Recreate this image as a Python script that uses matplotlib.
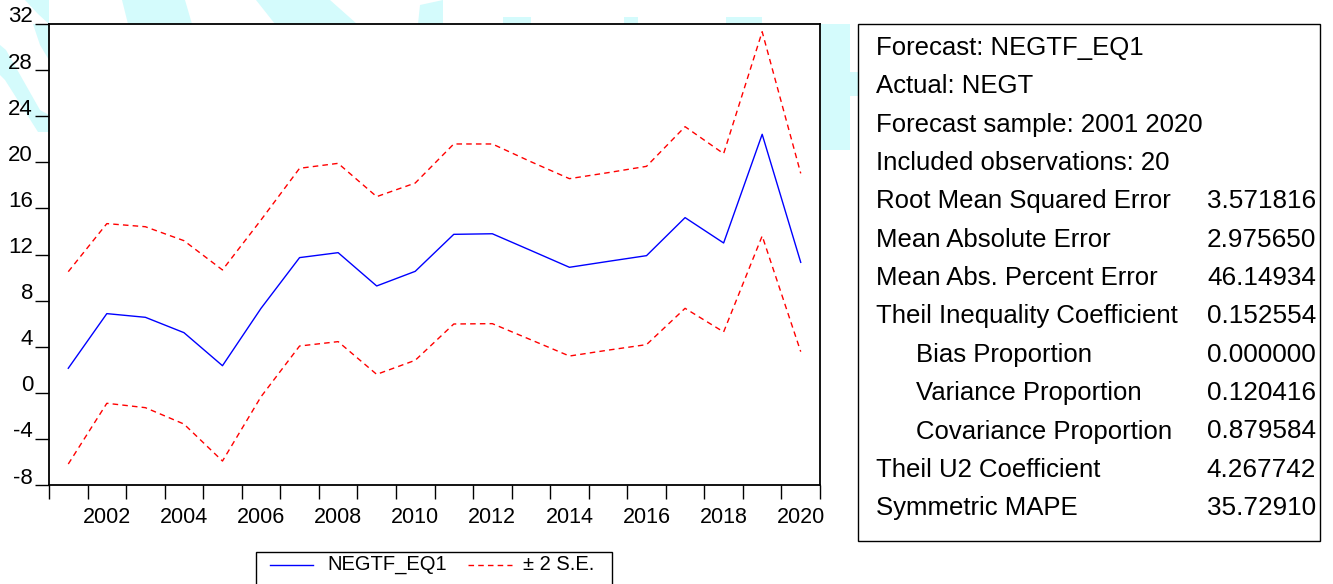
import matplotlib
matplotlib.use("Agg")
import matplotlib.pyplot as plt
from matplotlib.patches import Rectangle, Polygon
from matplotlib.lines import Line2D

plt.rcParams['font.family'] = ['Liberation Sans', 'DejaVu Sans']

years = list(range(2001, 2021))
forecast = [2.13, 6.87, 6.55, 5.22, 2.35, 7.33, 11.73, 12.16, 9.27, 10.54,
            13.75, 13.80, 12.35, 10.89, 11.40, 11.90, 15.20, 13.00, 22.43, 11.32]
upper = [10.51, 14.68, 14.41, 13.20, 10.66, 15.00, 19.48, 19.91, 17.02, 18.20,
         21.59, 21.59, 20.05, 18.58, 19.10, 19.65, 23.09, 20.75, 31.33, 19.04]
lower = [-6.18, -0.91, -1.29, -2.71, -5.92, -0.34, 4.06, 4.44, 1.60, 2.82,
         5.97, 6.00, 4.60, 3.19, 3.70, 4.18, 7.33, 5.28, 13.61, 3.57]
yticks = [-8, -4, 0, 4, 8, 12, 16, 20, 24, 28, 32]
xlabels = [2002, 2004, 2006, 2008, 2010, 2012, 2014, 2016, 2018, 2020]

stats_labels = ["Root Mean Squared Error", "Mean Absolute Error",
                "Mean Abs. Percent Error", "Theil Inequality Coefficient",
                "     Bias Proportion", "     Variance Proportion",
                "     Covariance Proportion", "Theil U2 Coefficient",
                "Symmetric MAPE"]
stats_values = ["3.571816", "2.975650", "46.14934", "0.152554", "0.000000",
                "0.120416", "0.879584", "4.267742", "35.72910"]
header_lines = ["Forecast: NEGTF_EQ1", "Actual: NEGT",
                "Forecast sample: 2001 2020", "Included observations: 20"]

W, H = 1333, 584
fig = plt.figure(figsize=(W / 100, H / 100), dpi=100)

def fx(px):
    return px / W

def fy(py):
    return 1 - py / H

# faint cyan background artefacts of the screenshot (behind everything)
cyan = '#d4fbfc'
bg_polys = [
    [(821, 24), (850, 24), (850, 150), (821, 150)],
    [(850, 72), (858, 72), (858, 96), (850, 96)],
    [(122, 0), (185, 0), (192, 24), (128, 24)],
    [(256, 0), (330, 0), (357, 24), (275, 24)],
    [(420, 5), (443, 0), (443, 24), (418, 24)],
    [(503, 17), (531, 17), (531, 24), (503, 24)],
    [(624, 17), (638, 17), (638, 24), (624, 24)],
    [(726, 17), (762, 17), (762, 24), (726, 24)],
    [(25, 0), (49, 0), (49, 24), (38, 14)],
    [(33, 24), (49, 24), (49, 60), (40, 45)],
    [(0, 45), (6, 50), (40, 110), (49, 115), (49, 132), (38, 132), (5, 80), (0, 75)],
]
for poly in bg_polys:
    fig.patches.append(Polygon([(fx(x), fy(y)) for x, y in poly], closed=True,
                               transform=fig.transFigure, fc=cyan, ec='none', zorder=-5))

ax = fig.add_axes([fx(49), fy(485), fx(820) - fx(49), (485 - 24) / H])
ax.set_zorder(2)
ax.plot(years, forecast, color='#0000ff', lw=1.0)
ax.plot(years, upper, color='#ff0000', lw=1.0, dashes=(4, 3))
ax.plot(years, lower, color='#ff0000', lw=1.0, dashes=(4, 3))
ax.set_xlim(2000.5, 2020.5)
ax.set_ylim(-8, 32)

for s in ax.spines.values():
    s.set_linewidth(1.3)
    s.set_color('black')

ax.set_yticks(yticks)
ax.set_yticklabels([])
ax.tick_params(axis='y', direction='out', length=10, width=1.0)
for v in yticks:
    ax.annotate(str(v), xy=(0, v), xycoords=ax.get_yaxis_transform(),
                xytext=(-16, 7), textcoords='offset pixels',
                ha='right', va='center', fontsize=16)

ax.set_xticks([y + 0.5 for y in range(2000, 2021)])
ax.set_xticklabels([])
ax.tick_params(axis='x', direction='out', length=10, width=1.0, colors='black')
ax.set_xticks(xlabels, minor=True)
ax.set_xticklabels([str(v) for v in xlabels], minor=True, fontsize=15.5)
ax.tick_params(axis='x', which='minor', length=0, pad=16)

# Legend box
fig.patches.append(Rectangle((fx(256), fy(600)), fx(612) - fx(256), (600 - 552) / H,
                             transform=fig.transFigure, fill=False, ec='black', lw=1.0))
fig.lines.append(Line2D([fx(270), fx(313)], [fy(565), fy(565)], transform=fig.transFigure,
                        color='#0000ff', lw=1.0))
fig.lines.append(Line2D([fx(468), fx(512)], [fy(565), fy(565)], transform=fig.transFigure,
                        color='#ff0000', lw=1.0, dashes=(4, 3)))
fig.text(fx(327), fy(565), "NEGTF_EQ1", ha='left', va='center', fontsize=14.5)
fig.text(fx(523), fy(565), "± 2 S.E.", ha='left', va='center', fontsize=14.5)

# Stats table
fig.patches.append(Rectangle((fx(858), fy(541)), fx(1320) - fx(858), (541 - 24) / H,
                             transform=fig.transFigure, fc='white', ec='black', lw=1.0,
                             zorder=1))
row_y = [48 + i * 38.35 for i in range(13)]
for i, t in enumerate(header_lines):
    fig.text(fx(876), fy(row_y[i]), t, ha='left', va='center', fontsize=18.5)
for j, (lab, val) in enumerate(zip(stats_labels, stats_values)):
    yy = fy(row_y[4 + j])
    if lab.startswith("     "):
        fig.text(fx(916), yy, lab.strip(), ha='left', va='center', fontsize=18.5)
    else:
        fig.text(fx(876), yy, lab, ha='left', va='center', fontsize=18.5)
    fig.text(fx(1316), yy, val, ha='right', va='center', fontsize=18.8)

fig.savefig("out.png", dpi=100)
